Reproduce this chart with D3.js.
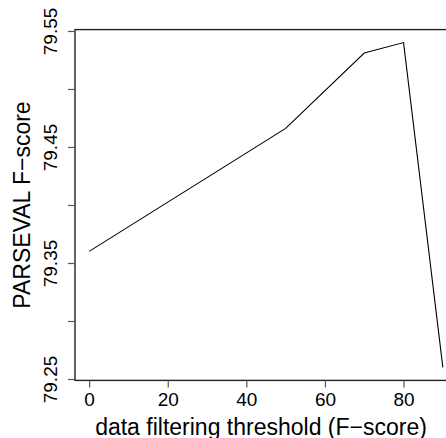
<!DOCTYPE html>
<html>
<head>
<meta charset="utf-8">
<script src="https://cdn.jsdelivr.net/npm/d3@7"></script>
<style>
  html, body { margin: 0; padding: 0; background: #fff; }
  svg { display: block; }
  text { font-family: "Liberation Sans", Arial, Helvetica, sans-serif; fill: #000; }
</style>
</head>
<body>
<div id="chart"></div>
<script>
'use strict';

// data
var thresholds = [0, 50, 70, 80, 90];
var fscores = [79.36, 79.466, 79.531, 79.540, 79.26];

var xTicks = [0, 20, 40, 60, 80];
var yTicks = [79.25, 79.30, 79.35, 79.40, 79.45, 79.50, 79.55];
var yTickLabels = ['79.25', '', '79.35', '', '79.45', '', '79.55'];

var xLabel = 'data filtering threshold (F\u2212score)';
var yLabel = 'PARSEVAL F\u2212score';

var width = 446, height = 438;
var box = {left: 75, right: 457, top: 29.6, bottom: 380.4};

var svg = d3.select('#chart').append('svg')
  .attr('width', width)
  .attr('height', height);

// R style 4% padding on both axes
var xPad = (90 - 0) * 0.04;
var x = d3.scaleLinear()
  .domain([0 - xPad, 90 + xPad])
  .range([box.left, box.right]);

var yMin = d3.min(fscores), yMax = d3.max(fscores);
var yPad = (yMax - yMin) * 0.04;
var y = d3.scaleLinear()
  .domain([yMin - yPad, yMax + yPad])
  .range([box.bottom, box.top]);

// data line
var line = d3.line()
  .x(function(d, i) { return x(thresholds[i]); })
  .y(function(d) { return y(d); });

svg.append('path')
  .datum(fscores)
  .attr('d', line)
  .attr('fill', 'none')
  .attr('stroke', '#000')
  .attr('stroke-width', 1.1);

// plot box (right edge falls off the canvas)
svg.append('rect')
  .attr('x', box.left)
  .attr('y', box.top)
  .attr('width', box.right - box.left)
  .attr('height', box.bottom - box.top)
  .attr('fill', 'none')
  .attr('stroke', '#222')
  .attr('stroke-width', 1.4);

// x axis
var xAxis = svg.append('g')
  .attr('transform', 'translate(0,' + box.bottom + ')')
  .call(d3.axisBottom(x).tickValues(xTicks).tickSize(7).tickPadding(5).tickFormat(d3.format('d')));
xAxis.select('.domain').remove();
xAxis.selectAll('.tick line').attr('stroke', '#555').attr('stroke-width', 1.2);
xAxis.selectAll('.tick text')
  .attr('font-size', 19)
  .attr('font-family', '"Liberation Sans", Arial, sans-serif')
  .attr('fill', '#000');

// y axis
var yAxis = svg.append('g')
  .attr('transform', 'translate(' + box.left + ',0)')
  .call(d3.axisLeft(y).tickValues(yTicks).tickSize(7).tickFormat(function(d, i) { return yTickLabels[i]; }));
yAxis.select('.domain').remove();
yAxis.selectAll('.tick line').attr('stroke', '#555').attr('stroke-width', 1.2);
yAxis.selectAll('.tick text')
  .attr('x', null)
  .attr('dy', null)
  .attr('text-anchor', 'middle')
  .attr('transform', 'translate(-18,0) rotate(-90)')
  .attr('font-size', 19)
  .attr('font-family', '"Liberation Sans", Arial, sans-serif')
  .attr('fill', '#000');

// axis titles
svg.append('text')
  .attr('x', (box.left + box.right) / 2 - 5)
  .attr('y', 435)
  .attr('text-anchor', 'middle')
  .attr('font-size', 23)
  .text(xLabel);

svg.append('text')
  .attr('transform', 'translate(30,' + ((box.top + box.bottom) / 2) + ') rotate(-90)')
  .attr('text-anchor', 'middle')
  .attr('font-size', 23)
  .text(yLabel);
</script>
</body>
</html>
